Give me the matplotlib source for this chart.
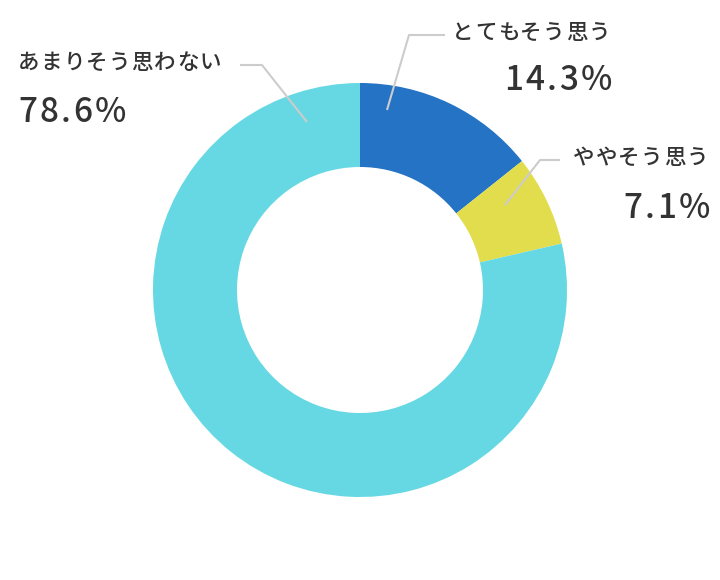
import matplotlib.pyplot as plt

plt.rcParams['font.family'] = ['Noto Sans CJK JP', 'DejaVu Sans']

labels = ["とてもそう思う", "ややそう思う", "あまりそう思わない"]
values = [14.3, 7.1, 78.6]
colors = ["#2473c4", "#e2dd4d", "#66d8e3"]

fig = plt.figure(figsize=(7.2, 5.8), dpi=100)
ax = fig.add_axes([0, 0, 1, 1])

# donut: centre (360, 290) in pixel units
ax.pie(values, colors=colors, startangle=90, counterclock=False,
       center=(360, 290), radius=207, frame=True,
       wedgeprops=dict(width=84, linewidth=0))
ax.set_xlim(0, 720)
ax.set_ylim(0, 580)
ax.set_aspect("equal")
ax.axis("off")

txt = "#333333"
line = "#cccccc"
renderer = fig.canvas.get_renderer()


def spaced_text(x, y, s, ha, size, gap):
    # draw text with extra letter spacing (pixels == data units here)
    widths = []
    for ch in s:
        t = ax.text(0, 0, ch, fontsize=size, fontweight="medium")
        widths.append(t.get_window_extent(renderer).width)
        t.remove()
    total = sum(widths) + gap * (len(s) - 1)
    cx = x if ha == "left" else x - total
    for ch, w in zip(s, widths):
        ax.text(cx, y, ch, ha="left", va="center", fontsize=size,
                color=txt, fontweight="medium")
        cx += w + gap


# (x, y_label, y_value, ha, leader points) in pixel coords, y from top
placements = [
    (610, 33, 80, "right", [(387, 110), (409, 35), (445, 35)]),
    (708, 158, 208, "right", [(505, 205), (540, 160), (560, 160)]),
    (18, 63, 112, "left", [(307, 122), (262, 65), (240, 65)]),
]

for lab, val, (x, yl, yv, ha, pts) in zip(labels, values, placements):
    spaced_text(x, 580 - yl, lab, ha, 15.5, 1.2)
    spaced_text(x + (2 if ha == "right" else 0), 580 - yv, f"{val}%", ha, 24, 2.4)
    xs = [p[0] for p in pts]
    ys = [580 - p[1] for p in pts]
    ax.plot(xs, ys, color=line, lw=1.5, solid_capstyle="butt")

fig.savefig("out.png", dpi=100)
